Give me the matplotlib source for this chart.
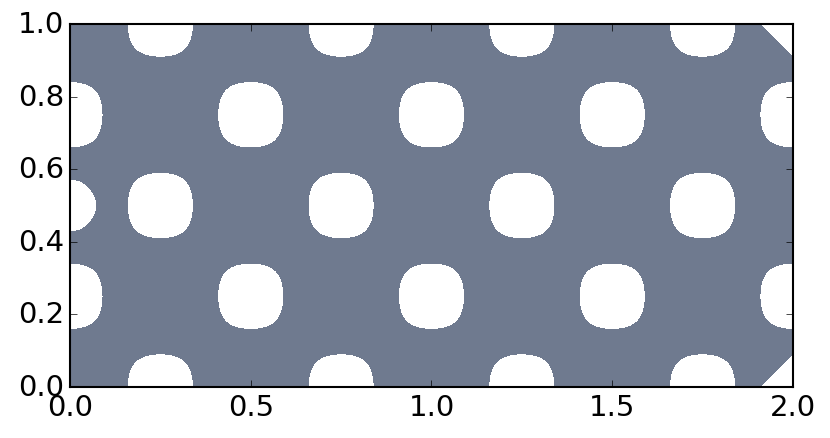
import numpy as np
import matplotlib
matplotlib.use("Agg")
import matplotlib.pyplot as plt

plt.style.use("classic")

# field: cos(k x) * cos(k y), holes where value drops below the lower level
freq = 4 * np.pi
levels = [-0.41, 1.01]
fill_color = "#6f7a8f"

# extra blank spots (x, y, radius, shape exponent: 2 = round, 1 = diamond)
spot_x = [0.0, 2.0, 2.0]
spot_y = [0.5, 0.0, 1.0]
spot_r = [0.072, 0.091, 0.091]
spot_p = [2.0, 1.0, 1.0]

x = np.linspace(0, 2, 801)
y = np.linspace(0, 1, 401)
X, Y = np.meshgrid(x, y)
Z = np.cos(freq * X) * np.cos(freq * Y)

mask = np.zeros_like(Z, dtype=bool)
for sx, sy, r, p in zip(spot_x, spot_y, spot_r, spot_p):
    mask |= (np.abs(X - sx) ** p + np.abs(Y - sy) ** p) < r ** p
Z = np.ma.masked_array(Z, mask=mask)

fig = plt.figure(figsize=(8.3, 4.39), dpi=100, facecolor="white")
ax = fig.add_axes([0.0843, 0.1162, 0.8711, 0.8268])
ax.contourf(X, Y, Z, levels=levels, colors=[fill_color])
ax.set_xlim(0, 2)
ax.set_ylim(0, 1)
ax.set_xticks([0.0, 0.5, 1.0, 1.5, 2.0])
ax.set_yticks([0.0, 0.2, 0.4, 0.6, 0.8, 1.0])
ax.tick_params(labelsize=21, length=5, pad=4)
for s in ax.spines.values():
    s.set_linewidth(1.5)

fig.savefig("out.png", dpi=100, facecolor="white")
